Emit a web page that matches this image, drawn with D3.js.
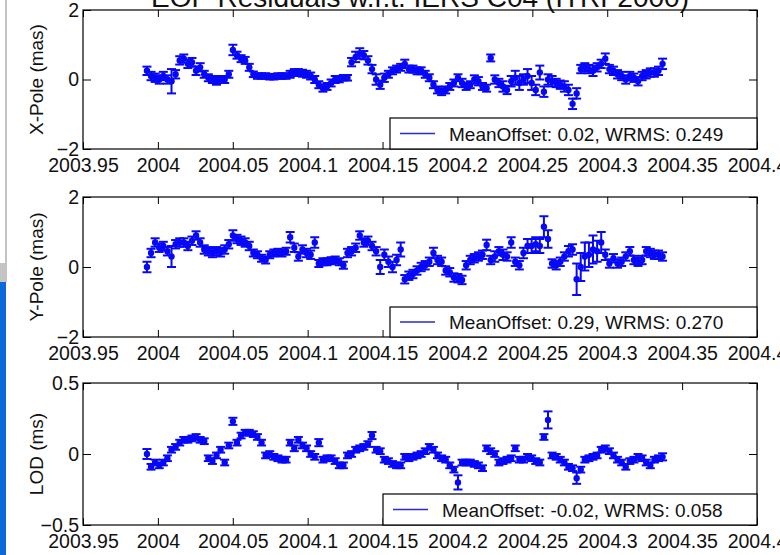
<!DOCTYPE html>
<html>
<head>
<meta charset="utf-8">
<script src="https://cdn.jsdelivr.net/npm/d3@7"></script>
<style>
  body { margin: 0; background: #fff; }
  svg { display: block; font-family: "Liberation Sans", Arial, sans-serif; }
  .tick text { font-size: 19.5px; fill: #111; }
  .tick line { stroke: #000; }
  .legend_label { font-size: 19px; fill: #111; }
  .axis_label { font-size: 19px; fill: #111; }
</style>
</head>
<body>
<div id="chart"></div>
<script>
// Data: daily EOP residuals (starts ~2003.9927, one point per day)
var startEpoch = 2003.9927;
var daysPerYear = 366;

var xPole = [0.25,0.1,0.05,0.0,0.1,0.0,-0.05,0.15,0.55,0.6,
  0.45,0.5,0.25,0.35,0.15,0.05,0.0,-0.05,0.0,0.0,
  0.15,0.85,0.7,0.6,0.55,0.35,0.15,0.1,0.1,0.1,
  0.08,0.08,0.1,0.1,0.1,0.15,0.2,0.2,0.18,0.15,
  0.1,0.0,-0.15,-0.25,-0.2,-0.1,0.0,0.0,0.05,0.05,
  0.5,0.65,0.75,0.7,0.55,0.3,0.0,-0.15,0.05,0.15,
  0.25,0.3,0.35,0.45,0.3,0.3,0.25,0.25,0.15,0.05,
  -0.15,-0.3,-0.35,-0.3,-0.2,-0.1,0.05,-0.1,-0.2,-0.15,
  0.0,-0.05,-0.2,-0.25,0.62,0.0,-0.1,-0.2,-0.3,-0.05,
  0.05,-0.1,0.0,0.1,-0.1,-0.3,0.2,-0.35,0.0,-0.05,
  -0.1,-0.15,-0.2,-0.3,-0.7,-0.4,0.3,0.35,0.3,0.25,
  0.35,0.45,0.6,0.3,0.25,0.15,0.1,0.0,0.1,0.05,
  -0.05,0.1,0.15,0.2,0.2,0.25,0.45];
var xPoleErr = [0.12,0.12,0.12,0.12,0.12,0.12,0.35,0.12,0.12,0.12,
  0.12,0.12,0.12,0.12,0.1,0.1,0.1,0.1,0.1,0.1,
  0.1,0.15,0.1,0.1,0.1,0.1,0.08,0.08,0.08,0.08,
  0.08,0.08,0.08,0.08,0.08,0.1,0.1,0.1,0.1,0.1,
  0.1,0.1,0.1,0.1,0.1,0.1,0.1,0.08,0.08,0.08,
  0.12,0.15,0.15,0.12,0.12,0.12,0.15,0.12,0.12,0.1,
  0.1,0.1,0.1,0.12,0.1,0.1,0.1,0.1,0.1,0.1,
  0.1,0.1,0.1,0.1,0.1,0.1,0.1,0.12,0.1,0.1,
  0.12,0.12,0.1,0.1,0.1,0.12,0.12,0.15,0.12,0.15,
  0.2,0.2,0.15,0.2,0.2,0.15,0.2,0.15,0.15,0.15,
  0.12,0.12,0.15,0.15,0.15,0.15,0.12,0.12,0.12,0.15,
  0.12,0.12,0.15,0.12,0.12,0.12,0.12,0.12,0.12,0.12,
  0.12,0.12,0.12,0.12,0.12,0.12,0.15];

var yPole = [0.0,0.4,0.7,0.55,0.6,0.45,0.3,0.65,0.7,0.7,
  0.6,0.75,0.9,0.7,0.5,0.45,0.4,0.45,0.42,0.5,
  0.65,0.9,0.8,0.75,0.7,0.6,0.4,0.35,0.25,0.2,
  0.35,0.4,0.42,0.4,0.45,0.85,0.55,0.3,0.5,0.4,
  0.35,0.7,0.1,0.15,0.15,0.18,0.2,0.15,0.05,0.4,
  0.45,0.55,0.9,0.7,0.75,0.6,0.45,0.0,0.35,0.15,
  0.0,0.2,0.5,-0.35,-0.25,-0.2,-0.1,0.0,0.05,0.15,
  0.4,0.2,0.15,-0.1,-0.15,-0.3,-0.32,-0.37,0.05,0.2,
  0.25,0.3,0.35,0.63,0.2,0.3,0.45,0.35,0.3,0.7,
  0.15,0.05,0.4,0.6,0.6,0.65,0.6,1.15,0.8,0.1,
  0.05,0.15,0.3,0.45,0.5,-0.35,0.0,0.3,0.35,0.5,
  0.45,0.7,0.35,0.1,0.25,0.1,0.15,0.3,0.45,0.2,
  0.15,0.2,0.45,0.4,0.35,0.35,0.3];
var yPoleErr = [0.15,0.12,0.12,0.12,0.12,0.12,0.3,0.12,0.12,0.12,
  0.12,0.12,0.12,0.12,0.12,0.12,0.12,0.12,0.12,0.12,
  0.12,0.15,0.12,0.12,0.12,0.12,0.1,0.1,0.1,0.1,
  0.1,0.1,0.1,0.1,0.1,0.15,0.12,0.12,0.12,0.12,
  0.12,0.15,0.1,0.1,0.1,0.1,0.1,0.1,0.1,0.12,
  0.12,0.12,0.12,0.12,0.12,0.12,0.12,0.2,0.15,0.15,
  0.15,0.15,0.2,0.12,0.12,0.12,0.12,0.12,0.12,0.12,
  0.15,0.12,0.12,0.12,0.12,0.12,0.12,0.12,0.12,0.12,
  0.12,0.12,0.12,0.15,0.12,0.15,0.12,0.15,0.12,0.15,
  0.12,0.12,0.15,0.2,0.2,0.2,0.2,0.3,0.25,0.12,
  0.12,0.12,0.12,0.15,0.15,0.45,0.4,0.4,0.35,0.4,
  0.3,0.3,0.15,0.12,0.12,0.12,0.12,0.12,0.12,0.12,
  0.12,0.12,0.12,0.12,0.12,0.12,0.12];

var lod = [0.0,-0.09,-0.06,-0.08,-0.06,-0.03,0.03,0.05,0.08,0.1,
  0.1,0.11,0.12,0.1,0.09,-0.03,-0.05,-0.01,0.03,-0.06,
  0.06,0.23,0.08,0.13,0.15,0.15,0.14,0.12,0.08,-0.01,
  0.0,-0.02,-0.03,-0.04,-0.04,0.08,0.04,0.1,0.06,0.04,
  0.0,-0.02,0.08,-0.04,-0.03,-0.03,-0.05,-0.08,-0.08,-0.01,
  0.0,0.03,0.04,0.05,0.07,0.13,0.03,0.02,-0.04,-0.05,
  -0.07,-0.08,-0.08,-0.02,-0.03,-0.02,-0.01,0.0,0.02,0.05,
  0.03,-0.01,-0.03,-0.04,-0.08,-0.11,-0.2,-0.06,-0.06,-0.06,
  -0.07,-0.08,-0.1,0.04,0.02,0.0,-0.06,-0.05,-0.04,-0.03,
  0.04,-0.04,-0.04,-0.02,-0.03,-0.05,-0.06,0.12,0.24,-0.01,
  -0.02,-0.04,-0.06,-0.09,-0.1,-0.17,-0.11,-0.04,-0.03,-0.02,
  -0.01,0.03,0.04,0.02,-0.01,-0.04,-0.06,-0.09,-0.05,-0.04,
  -0.02,-0.03,-0.06,-0.08,-0.04,-0.03,-0.02];
var lodErr = [0.035,0.02,0.02,0.02,0.02,0.02,0.02,0.02,0.02,0.02,
  0.02,0.02,0.02,0.02,0.02,0.02,0.02,0.02,0.02,0.02,
  0.02,0.025,0.02,0.02,0.02,0.02,0.02,0.02,0.02,0.02,
  0.02,0.02,0.02,0.02,0.02,0.02,0.02,0.02,0.02,0.02,
  0.02,0.02,0.025,0.02,0.02,0.02,0.02,0.02,0.02,0.02,
  0.02,0.02,0.02,0.02,0.02,0.025,0.02,0.02,0.02,0.02,
  0.02,0.02,0.02,0.02,0.02,0.02,0.02,0.02,0.02,0.02,
  0.02,0.02,0.02,0.02,0.02,0.02,0.05,0.02,0.02,0.02,
  0.02,0.02,0.02,0.02,0.02,0.02,0.02,0.02,0.02,0.02,
  0.02,0.02,0.02,0.02,0.02,0.02,0.02,0.02,0.06,0.02,
  0.02,0.02,0.02,0.02,0.02,0.04,0.02,0.02,0.02,0.02,
  0.02,0.02,0.02,0.02,0.02,0.02,0.02,0.02,0.02,0.02,
  0.02,0.02,0.02,0.02,0.02,0.02,0.025];

// ticks
var xTicks = [2003.95, 2004, 2004.05, 2004.1, 2004.15, 2004.2, 2004.25, 2004.3, 2004.35, 2004.4];
var xTickLabels = ["2003.95","2004","2004.05","2004.1","2004.15","2004.2","2004.25","2004.3","2004.35","2004.4"];
var poleTicks = [-2, 0, 2];
var lodTicks = [-0.5, 0, 0.5];

var panelNames = ["X-Pole (mas)", "Y-Pole (mas)", "LOD (ms)"];
var legendTexts = ["MeanOffset: 0.02, WRMS: 0.249", "MeanOffset: 0.29, WRMS: 0.270", "MeanOffset: -0.02, WRMS: 0.058"];

var width = 780, height = 555;
var left = 83, right = 757;

var svg = d3.select("#chart")
            .append("svg")
            .attr("width", width)
            .attr("height", height);

var xScale = d3.scaleLinear()
               .domain([2003.95, 2004.4])
               .range([left, right]);

function epoch(i) { return startEpoch + i / daysPerYear; }

// panel layout
var panels = [
  {top: 10,  bottom: 149, vals: xPole, errs: xPoleErr, ticks: poleTicks, dom: [-2, 2],
   legend: {x: 390, y: 118, w: 367, h: 31, tx: 449}},
  {top: 197, bottom: 337, vals: yPole, errs: yPoleErr, ticks: poleTicks, dom: [-2, 2],
   legend: {x: 390, y: 307, w: 367, h: 30, tx: 449}},
  {top: 383, bottom: 525, vals: lod, errs: lodErr, ticks: lodTicks, dom: [-0.5, 0.5],
   legend: {x: 383, y: 494, w: 374, h: 31, tx: 442}}
];

var blue = "#0808f8";

panels.forEach(function(p, k) {
  var yScale = d3.scaleLinear().domain(p.dom).range([p.bottom, p.top]);
  var g = svg.append("g");

  // error bars + dots
  var pts = p.vals.map(function(v, i) { return {t: epoch(i), v: v, e: p.errs[i]}; });
  var eb = g.selectAll(".eb").data(pts).enter().append("g");
  eb.append("line")
    .attr("x1", function(d) { return xScale(d.t); })
    .attr("x2", function(d) { return xScale(d.t); })
    .attr("y1", function(d) { return yScale(d.v - d.e); })
    .attr("y2", function(d) { return yScale(d.v + d.e); })
    .attr("stroke", blue).attr("stroke-width", 2);
  [-1, 1].forEach(function(s) {
    eb.append("line")
      .attr("x1", function(d) { return xScale(d.t) - 4.5; })
      .attr("x2", function(d) { return xScale(d.t) + 4.5; })
      .attr("y1", function(d) { return yScale(d.v + s * d.e); })
      .attr("y2", function(d) { return yScale(d.v + s * d.e); })
      .attr("stroke", blue).attr("stroke-width", 2);
  });
  eb.append("circle")
    .attr("cx", function(d) { return xScale(d.t); })
    .attr("cy", function(d) { return yScale(d.v); })
    .attr("r", 3.2)
    .attr("fill", blue);

  // axes, ticks inside the box
  var fmt = function(d, i) { return xTickLabels[i]; };
  g.append("g")
   .attr("transform", "translate(0," + p.bottom + ")")
   .call(d3.axisBottom(xScale).tickValues(xTicks).tickFormat(fmt).tickSizeInner(-7).tickSizeOuter(0).tickPadding(9))
   .call(function(a) { a.select(".domain").remove(); });
  g.append("g")
   .attr("transform", "translate(0," + p.top + ")")
   .call(d3.axisTop(xScale).tickValues(xTicks).tickFormat("").tickSizeInner(-7).tickSizeOuter(0))
   .call(function(a) { a.select(".domain").remove(); });
  g.append("g")
   .attr("transform", "translate(" + left + ",0)")
   .call(d3.axisLeft(yScale).tickValues(p.ticks).tickFormat(d3.format("")).tickSizeInner(-8).tickSizeOuter(0).tickPadding(4))
   .call(function(a) { a.select(".domain").remove(); });
  g.append("g")
   .attr("transform", "translate(" + right + ",0)")
   .call(d3.axisRight(yScale).tickValues(p.ticks).tickFormat("").tickSizeInner(-8).tickSizeOuter(0))
   .call(function(a) { a.select(".domain").remove(); });

  g.selectAll(".tick text").attr("font-family", null).attr("font-size", null);

  // box
  g.append("rect")
   .attr("x", left).attr("y", p.top)
   .attr("width", right - left).attr("height", p.bottom - p.top)
   .attr("fill", "none").attr("stroke", "#000").attr("stroke-width", 1.2);

  // y label
  g.append("text")
   .attr("class", "axis_label")
   .attr("transform", "translate(43," + (p.top + p.bottom) / 2 + ") rotate(-90)")
   .attr("text-anchor", "middle")
   .text(panelNames[k]);

  // legend
  var L = p.legend;
  g.append("rect")
   .attr("x", L.x).attr("y", L.y).attr("width", L.w).attr("height", L.h)
   .attr("fill", "#fff").attr("stroke", "#000").attr("stroke-width", 1.2);
  g.append("line")
   .attr("x1", L.x + 10).attr("x2", L.x + 45)
   .attr("y1", L.y + L.h / 2).attr("y2", L.y + L.h / 2)
   .attr("stroke", "#2a2ad0").attr("stroke-width", 1.5);
  g.append("text")
   .attr("class", "legend_label")
   .attr("x", L.tx).attr("y", L.y + L.h / 2 + 7)
   .text(legendTexts[k]);
});

// Title (cut off at top)
svg.append("text")
   .attr("x", (left + right) / 2)
   .attr("y", 7)
   .attr("text-anchor", "middle")
   .style("font-size", "28px")
   .attr("fill", "#111")
   .text("EOP Residuals w.r.t. IERS C04 (ITRF2000)");

// window edge strip on the left
svg.append("line").attr("x1", 6).attr("x2", 6).attr("y1", 0).attr("y2", 263)
   .attr("stroke", "#888").attr("stroke-width", 1);
svg.append("rect").attr("x", 0).attr("y", 263).attr("width", 7).attr("height", 19).attr("fill", "#c4c4c4");
svg.append("rect").attr("x", 0).attr("y", 282).attr("width", 6).attr("height", 273).attr("fill", "#0a68d8");
</script>
</body>
</html>
